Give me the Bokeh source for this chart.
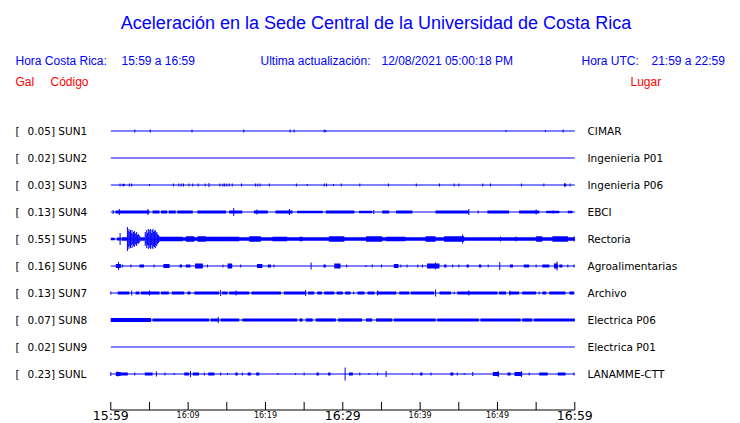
from bokeh.plotting import figure
from bokeh.models import Range1d, ColumnDataSource
from bokeh.embed import file_html
from bokeh.resources import INLINE
from bokeh.core.properties import value

# ---------------- data ----------------
TITLE = "Aceleración en la Sede Central de la Universidad de Costa Rica"
HORA_CR_LABEL = "Hora Costa Rica:"
HORA_CR = "15:59 a 16:59"
ACT_LABEL = "Ultima actualización:"
ACTUALIZACION = "12/08/2021 05:00:18 PM"
UTC_LABEL = "Hora UTC:"
HORA_UTC = "21:59 a 22:59"

codes = ["SUN1", "SUN2", "SUN3", "SUN4", "SUN5", "SUN6", "SUN7", "SUN8", "SUN9", "SUNL"]
gal = [0.05, 0.02, 0.03, 0.13, 0.55, 0.16, 0.13, 0.07, 0.02, 0.23]
places = ["CIMAR", "Ingenieria P01", "Ingenieria P06", "EBCI", "Rectoria",
          "Agroalimentarias", "Archivo", "Electrica P06", "Electrica P01", "LANAMME-CTT"]

# time axis (minutes after 15:59)
tick_minutes = [0, 5, 10, 15, 20, 25, 30, 35, 40, 45, 50, 55, 60]
tick_labels = ["15:59", "16:04", "16:09", "16:14", "16:19", "16:24", "16:29",
               "16:34", "16:39", "16:44", "16:49", "16:54", "16:59"]
major_labels = ["15:59", "16:29", "16:59"]
minor_labels = ["16:09", "16:19", "16:39", "16:49"]

# traces: bands (t_start, t_end, half amplitude) and spikes (t, half amplitude)
SUN1_bands = []
SUN1_spikes = [(3.1, 1.5), (5.1, 1.5), (10.5, 1.5), (17.2, 1.5), (23.2, 1.5), (23.7, 1.5),
               (27.6, 1.5), (27.8, 1), (51.1, 1), (56.2, 1), (58.5, 1.5)]

SUN2_bands = []
SUN2_spikes = []

SUN3_bands = [(1.5, 1.8, 1.3), (58.6, 58.9, 1.3)]
SUN3_spikes = [(1.2, 1.5), (2.4, 1.5), (2.7, 1.5), (5.0, 1), (8.1, 1.5), (8.8, 1.5), (9.1, 1.5),
               (9.4, 1.5), (10.1, 1.5), (10.6, 1.5), (11.3, 1.5), (12.2, 1.5), (12.7, 2),
               (14.1, 1.5), (14.5, 1.5), (14.7, 1.5), (15.0, 1.5), (15.3, 1.5), (15.7, 1.5),
               (16.9, 1.5), (18.7, 1.5), (19.0, 1.5), (19.3, 1.5), (20.5, 1.5), (24.0, 1.5),
               (25.4, 1), (27.6, 1.5), (27.9, 1.5), (28.8, 1), (29.8, 1.5), (32.2, 1.5),
               (35.9, 1.5), (39.5, 1.5), (42.5, 1.5), (44.4, 1.5), (45.0, 1.5), (48.1, 1.5),
               (49.1, 1.5), (53.1, 1.5), (56.0, 1.5), (58.7, 2), (59.4, 1.5)]

SUN4_bands = [(0.6, 5.0, 1.4), (5.4, 6.3, 1.4), (6.5, 7.3, 1.4), (7.5, 8.4, 1.4), (8.6, 10.6, 1.4),
              (11.2, 14.9, 1.4), (15.3, 17.0, 1.4), (18.5, 20.3, 1.4), (21.3, 23.5, 1.4),
              (24.1, 27.4, 1.2), (27.8, 31.5, 1.4), (32.1, 33.8, 1.2), (35.1, 36.0, 1.4),
              (36.9, 39.0, 1.4), (42.0, 46.3, 1.4), (48.7, 51.5, 1.4), (52.8, 55.4, 1.4),
              (56.3, 58.0, 1.2), (59.1, 59.7, 1.2)]
SUN4_spikes = [(0.3, 2), (1.1, 3), (4.8, 3), (15.9, 4), (18.9, 2.5), (23.1, 3), (34.0, 2),
               (46.3, 3), (47.5, 1.5), (55.0, 2.5), (57.2, 1.5)]

SUN5_bands = [(0.0, 0.5, 1.3), (0.8, 1.3, 1.5), (1.4, 2.1, 1.8), (3.8, 4.4, 1.8), (6.3, 60.0, 1.8),
              (6.3, 9.3, 2.3), (9.7, 10.8, 2.8), (11.2, 12.3, 2.8), (12.3, 16.6, 2.3), (17.9, 19.4, 2.8),
              (20.9, 22.8, 2.3), (24.4, 24.8, 2.3), (28.2, 30.2, 2.8), (33.0, 35.1, 2.8),
              (35.6, 38.1, 2.3), (40.7, 42.0, 2.8), (43.1, 45.7, 2.8), (55.0, 55.8, 2.8),
              (57.1, 59.1, 2.8)]
SUN5_spikes = [(1.2, 6), (45.5, 4.5), (50.4, 2.5), (52.4, 2.5), (59.9, 2.5)]
SUN5_burst = [(2.15, 12), (2.25, 8), (2.35, 10), (2.45, 7), (2.55, 9), (2.65, 6), (2.75, 9),
              (2.85, 5), (2.95, 7), (3.05, 8), (3.15, 5), (3.25, 6), (3.35, 7), (3.45, 4),
              (3.55, 5), (3.65, 4), (3.75, 3),
              (4.45, 7), (4.55, 5), (4.65, 9), (4.75, 6), (4.85, 10), (4.95, 7), (5.05, 9),
              (5.15, 10), (5.25, 6), (5.35, 9), (5.45, 10), (5.55, 7), (5.65, 8), (5.75, 9),
              (5.85, 6), (5.95, 7), (6.05, 5), (6.15, 4), (6.25, 3)]

SUN6_bands = [(0.65, 1.3, 2), (3.7, 4.3, 1.5), (6.8, 7.6, 2), (8.9, 9.2, 1.5), (9.7, 10.3, 1.5),
              (10.9, 11.9, 2.5), (15.1, 15.7, 2.5), (18.9, 19.6, 2), (20.3, 20.7, 1.5),
              (27.5, 27.8, 1.5), (28.9, 29.7, 2.5), (36.6, 37.2, 2), (40.9, 42.5, 2.5),
              (43.1, 43.4, 1.5), (46.0, 46.3, 1.5), (47.6, 47.9, 1.5), (51.6, 52.0, 1.5),
              (53.4, 54.1, 1.5), (55.8, 56.7, 1.5), (57.3, 57.8, 2.5), (58.0, 58.4, 1.5)]
SUN6_spikes = [(1.0, 4), (1.5, 1.5), (2.6, 1.5), (5.6, 1.5), (12.5, 1.5), (14.5, 1.5), (16.8, 1.5),
               (21.1, 1.5), (25.9, 3.5), (30.5, 1.5), (33.0, 1), (33.8, 1.5), (35.0, 1.5),
               (37.5, 1.5), (38.3, 1.5), (39.7, 1.5), (40.3, 1.5), (42.0, 3.5), (44.2, 1.5),
               (45.0, 1.5), (48.8, 1.5), (50.3, 4), (55.0, 1.5), (57.7, 4.5), (59.1, 1.5),
               (59.9, 1.5)]

SUN7_bands = [(0.9, 2.4, 1.5), (3.2, 3.7, 1.5), (3.9, 6.3, 1.5), (6.5, 7.5, 1.5), (7.9, 9.5, 1.5),
              (9.9, 10.3, 1.5), (10.8, 14.0, 1.5), (14.4, 15.1, 1.5), (15.3, 17.9, 1.5),
              (18.2, 22.0, 1.5), (22.4, 25.2, 1.5), (25.5, 26.3, 1.5), (26.7, 27.3, 1.5),
              (27.6, 28.9, 1.5), (29.2, 30.0, 1.5), (30.3, 31.0, 1.5), (31.9, 32.8, 1.5),
              (33.2, 34.1, 1.5), (34.4, 36.9, 1.5), (37.3, 38.6, 1.5), (38.8, 41.8, 1.5),
              (42.5, 44.0, 1.5), (44.8, 50.0, 1.5), (50.2, 51.1, 1.5), (51.5, 52.8, 1.5),
              (53.2, 55.0, 1.5), (55.8, 56.3, 1.5), (56.7, 58.8, 1.5), (59.3, 59.9, 1.5)]
SUN7_spikes = [(0.0, 1.5), (2.7, 2.5), (5.0, 2.5), (14.2, 3), (16.2, 2.5), (25.2, 3), (31.4, 1.5),
               (34.5, 2.5), (42.0, 3.5), (44.4, 1.5), (46.3, 2.5), (51.6, 2.5), (55.4, 1.5)]

SUN8_bands = [(0.0, 5.2, 2), (5.4, 12.7, 1.6), (12.9, 14.0, 1.6), (14.2, 16.6, 1.6),
              (17.0, 24.1, 1.6), (24.4, 24.8, 1.6), (25.2, 26.1, 1.6), (26.5, 29.1, 1.6),
              (29.4, 32.5, 1.6), (33.0, 33.8, 1.6), (34.3, 36.4, 1.6), (36.6, 42.0, 1.6),
              (42.2, 47.6, 1.6), (47.8, 53.0, 1.6), (53.2, 54.5, 1.6), (54.7, 60.0, 1.6)]
SUN8_spikes = [(13.9, 3)]

SUN9_bands = []
SUN9_spikes = []

SUNL_bands = [(0.65, 1.3, 2), (1.3, 2.2, 1.5), (4.4, 5.4, 1.5), (9.5, 10.1, 1.5), (10.6, 11.4, 1.5),
              (12.6, 13.4, 1.5), (16.1, 16.4, 1.5), (17.7, 18.1, 1.5), (18.8, 19.2, 1.5),
              (26.6, 26.9, 1.5), (28.1, 28.4, 1.5), (30.8, 31.3, 1.5), (40.0, 40.3, 1.5),
              (43.9, 44.3, 1.5), (49.4, 50.2, 2), (51.3, 51.7, 1.5), (52.2, 53.2, 2),
              (55.4, 56.5, 1.5), (57.8, 58.8, 1.5)]
SUNL_spikes = [(0.0, 2), (0.9, 2.5), (3.1, 1.5), (5.9, 2.5), (7.0, 1.5), (8.2, 1), (10.3, 3),
               (12.1, 1.5), (14.2, 1.5), (15.1, 1), (17.0, 1.5), (21.6, 1), (23.9, 1), (25.0, 1.5),
               (30.3, 6.5), (32.2, 1.5), (33.4, 1), (34.5, 1.5), (35.6, 3), (39.0, 1), (41.4, 1.5),
               (44.8, 1.5), (45.7, 1), (46.8, 2), (50.1, 3), (53.1, 3), (54.1, 1.5), (59.9, 1.5)]

bands = [SUN1_bands, SUN2_bands, SUN3_bands, SUN4_bands, SUN5_bands,
         SUN6_bands, SUN7_bands, SUN8_bands, SUN9_bands, SUNL_bands]
spikes = [SUN1_spikes, SUN2_spikes, SUN3_spikes, SUN4_spikes, SUN5_spikes,
          SUN6_spikes, SUN7_spikes, SUN8_spikes, SUN9_spikes, SUNL_spikes]

# ---------------- layout ----------------
W, H = 740, 423
PAGE_L, PAGE_R = 0, W
T0_PX, PX_PER_MIN = 110.3, 464.0 / 60.0
ROW0, ROW_STEP = 130.5, 27
BLUE, RED, BLACK = "#0000FF", "#FF0000", "#000000"
SANS = value("Liberation Sans")
DJ = value("DejaVu Sans")

p = figure(width=W, height=H, output_backend="svg", toolbar_location=None,
           x_range=Range1d((PAGE_L - T0_PX) / PX_PER_MIN, (PAGE_R - T0_PX) / PX_PER_MIN),
           y_range=Range1d(H, 0),
           x_axis_type=None, y_axis_type=None,
           min_border=0, min_border_left=0, min_border_right=0,
           min_border_top=0, min_border_bottom=0)
p.extra_x_ranges = {"px": Range1d(PAGE_L, PAGE_R)}
p.grid.visible = False
p.outline_line_color = None
p.background_fill_color = "white"
p.border_fill_color = "white"

row_y = [ROW0 + ROW_STEP * i for i in range(len(codes))]

# baselines
p.segment(x0=[tick_minutes[0]] * len(codes), x1=[tick_minutes[-1]] * len(codes),
          y0=row_y, y1=row_y, line_color=BLUE, line_width=1)

# bands
ql, qr, qt, qb = [], [], [], []
for y, bl in zip(row_y, bands):
    for (a, b, h) in bl:
        ql.append(a); qr.append(b); qt.append(y - h); qb.append(y + h)
p.quad(source=ColumnDataSource(dict(left=ql, right=qr, top=qt, bottom=qb)),
       left="left", right="right", top="top", bottom="bottom",
       fill_color=BLUE, line_color=None)

# spikes
sx, sy0, sy1 = [], [], []
for y, sl in zip(row_y, spikes):
    for (t, h) in sl:
        sx.append(t); sy0.append(y - h); sy1.append(y + h)
p.segment(x0=sx, x1=sx, y0=sy0, y1=sy1, line_color=BLUE, line_width=1)

# SUN5 bursts
y5 = row_y[codes.index("SUN5")]
bx = [t for t, h in SUN5_burst]
p.segment(x0=bx, x1=bx, y0=[y5 - h for t, h in SUN5_burst], y1=[y5 + h for t, h in SUN5_burst],
          line_color=BLUE, line_width=1)

# station labels
p.text(x=[15] * len(codes), y=row_y, text=["["] * len(codes), x_range_name="px",
       text_font=DJ, text_font_size="10.5px", text_color=BLACK,
       text_align="left", text_baseline="middle")
p.text(x=[27] * len(codes), y=row_y, text=["%.2f] %s" % (g, c) for g, c in zip(gal, codes)],
       x_range_name="px", text_font=DJ, text_font_size="10.5px", text_color=BLACK,
       text_align="left", text_baseline="middle")
p.text(x=[587] * len(codes), y=row_y, text=places, x_range_name="px",
       text_font=DJ, text_font_size="10.5px", text_color=BLACK,
       text_align="left", text_baseline="middle")

# title and headers
p.text(x=[375.5], y=[22], text=[TITLE], x_range_name="px", text_font=SANS,
       text_font_size="18px", text_color=BLUE, text_align="center", text_baseline="middle")
p.text(x=[15, 121, 260, 381, 581, 651], y=[60.5] * 6,
       text=[HORA_CR_LABEL, HORA_CR, ACT_LABEL, ACTUALIZACION, UTC_LABEL, HORA_UTC],
       x_range_name="px", text_font=SANS, text_font_size="12px", text_color=BLUE,
       text_align="left", text_baseline="middle")
p.text(x=[15, 50, 630], y=[81] * 3, text=["Gal", "Código", "Lugar"],
       x_range_name="px", text_font=SANS, text_font_size="12px", text_color=RED,
       text_align="left", text_baseline="middle")

# time axis
AX_Y = 409.5
p.segment(x0=[tick_minutes[0]], x1=[tick_minutes[-1]], y0=[AX_Y], y1=[AX_Y],
          line_color=BLACK, line_width=1)
p.segment(x0=tick_minutes, x1=tick_minutes, y0=[AX_Y - 8] * len(tick_minutes),
          y1=[AX_Y] * len(tick_minutes), line_color=BLACK, line_width=1)
maj_x = [m for m, l in zip(tick_minutes, tick_labels) if l in major_labels]
min_x = [m for m, l in zip(tick_minutes, tick_labels) if l in minor_labels]
p.text(x=maj_x, y=[415] * len(maj_x), text=major_labels, text_font=DJ,
       text_font_size="12.5px", text_color=BLACK, text_align="center",
       text_baseline="middle")
p.text(x=min_x, y=[414.5] * len(min_x), text=minor_labels, text_font=DJ,
       text_font_size="8px", text_color=BLACK, text_align="center",
       text_baseline="middle")

open("out.html", "w").write(file_html(p, INLINE))
